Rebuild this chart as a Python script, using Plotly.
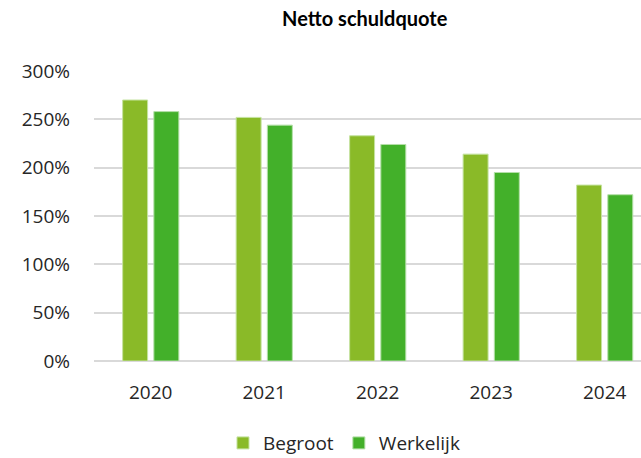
import plotly.graph_objects as go

# Data
jaren = ["2020", "2021", "2022", "2023", "2024"]
begroot = [270, 252, 233, 214, 182]
werkelijk = [258, 244, 224, 195, 172]
y_ticks = [0, 50, 100, 150, 200, 250, 300]
y_labels = ["0%", "50%", "100%", "150%", "200%", "250%", "300%"]

font_fam = "'Open Sans', sans-serif"
txt_col = "#262626"

fig = go.Figure()
fig.add_trace(go.Bar(
    x=jaren, y=begroot, name="Begroot",
    marker=dict(color="#8aba28", line=dict(color="#c5e3a0", width=1)),
))
fig.add_trace(go.Bar(
    x=jaren, y=werkelijk, name="Werkelijk",
    marker=dict(color="#43b02a", line=dict(color="#b4dfa8", width=1)),
))

fig.update_layout(
    width=641, height=458,
    # fixed margins: don't let the legend push the plot area up
    margin=dict(l=94, r=0, t=71, b=97, autoexpand=False),
    paper_bgcolor="white", plot_bgcolor="white",
    barmode="group", bargap=0.45, bargroupgap=0.2,
    font=dict(family=font_fam, size=19, color=txt_col),
    title=dict(
        text="<b>Netto schuldquote</b>",
        x=0.495, xref="paper", xanchor="center",
        y=1 - 19 / 458, yref="container", yanchor="middle",
        font=dict(family="Lato, sans-serif", size=20, color="#000000"),
    ),
    legend=dict(
        orientation="h", x=0.457, xanchor="center",
        y=-0.283, yanchor="middle",
        font=dict(size=19, color=txt_col),
        itemwidth=30,
    ),
    xaxis=dict(
        range=[-0.5, 4.32], showgrid=False, showline=False,
        ticks="", ticklabelstandoff=18,
    ),
    yaxis=dict(
        range=[0, 300], tickvals=y_ticks, ticktext=y_labels,
        showgrid=True, gridcolor="#d9d9d9", gridwidth=1.5,
        zeroline=True, zerolinecolor="#d9d9d9", zerolinewidth=1.5,
        showline=False, ticks="", ticklabelstandoff=23,
    ),
)

# drop the default body margin so the figure fills the window exactly
fig.write_html(
    "out.html",
    config={"displayModeBar": False},
    post_script="document.body.style.margin='0';",
)
